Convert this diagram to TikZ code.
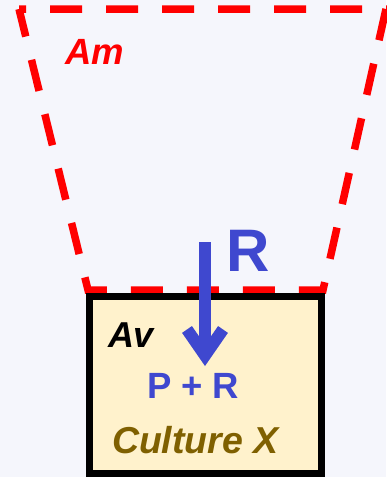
\documentclass[tikz,border=0pt]{standalone}
\usepackage{fontspec}
\setmainfont{Liberation Sans}
\usetikzlibrary{arrows.meta}
\definecolor{bgpale}{HTML}{F5F6FC}
\definecolor{amred}{HTML}{FF0000}
\definecolor{rblue}{HTML}{3F48CF}
\definecolor{cultfill}{HTML}{FFF2CC}
\definecolor{cultolive}{HTML}{7F6000}
\tikzset{every node/.style={inner sep=0pt,outer sep=0pt,anchor=base west},
  areabound/.style={draw=amred,line width=7.5pt,
    dash pattern=on 32pt off 24pt,dash phase=25pt},
  cultbox/.style={draw=black,fill=cultfill,line width=7pt}}
\newcommand{\fL}[1]{\fontsize{#1}{#1}\selectfont\bfseries}
\newcommand{\fI}[1]{\fontsize{#1}{#1}\selectfont\bfseries\itshape}

\begin{document}
\begin{tikzpicture}[x=1pt,y=-1pt,
    flow/.style={draw=rblue,line width=12pt,
      -{Straight Barb[length=26pt,width=36pt]}}]
  \fill[bgpale] (0,0) rectangle (386,477);
  \path[use as bounding box] (0,0) rectangle (386,477);

  % Am: the dashed area above
  \draw[areabound] (19,9) -- (386,9) -- (323,290) -- (88,290) -- cycle;
  \node[text=amred] (am) at (65,64) {\fI{36.5}Am};

  % Av: the box holding culture X
  \draw[cultbox] (89.5,296.5) rectangle (321,473.5);
  \node (av) at (108,347) {\fI{36}Av};
  \node[text=rblue] (pr) at (147,398) {\fL{36.5}P + R};
  \node[text=cultolive] (cx) at (112,453) {\fI{37.5}Culture X};

  % R: flow from Am into Av
  \coordinate (rsrc) at (205,242);
  \coordinate (rtip) at (205,366);
  \node[text=rblue] (r) at (226,271) {\fL{60}R};
  \draw[flow] (rsrc) -- (rtip);
\end{tikzpicture}
\end{document}
